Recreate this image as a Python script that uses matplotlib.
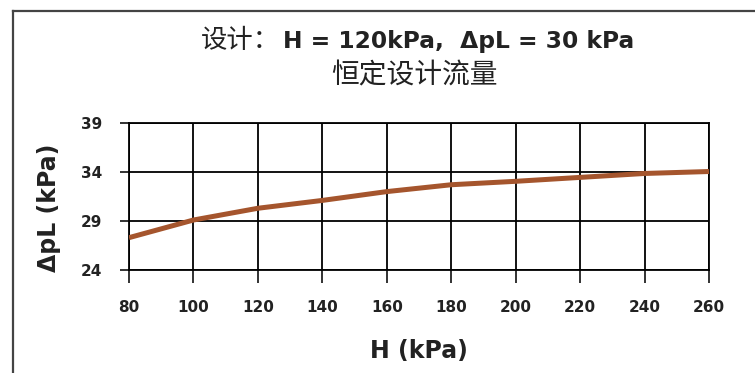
import matplotlib
matplotlib.use('Agg')
import matplotlib.pyplot as plt
from matplotlib.lines import Line2D

# data
H = [80, 100, 120, 140, 160, 180, 200, 220, 240, 260]
dpL = [27.3, 29.1, 30.3, 31.1, 32.0, 32.7, 33.05, 33.45, 33.85, 34.05]
xticks = [80, 100, 120, 140, 160, 180, 200, 220, 240, 260]
yticks = [24, 29, 34, 39]

W, Hpx = 755, 373
fig = plt.figure(figsize=(W / 100, Hpx / 100), dpi=100)
fig.patch.set_facecolor('white')

# page frame (left + top lines)
fig.add_artist(Line2D([13 / W, 13 / W], [0, 1 - 11 / Hpx], color='#444444', lw=1.6))
fig.add_artist(Line2D([13 / W, 1], [1 - 11 / Hpx, 1 - 11 / Hpx], color='#444444', lw=1.6))

ax = fig.add_axes([129 / W, 1 - 270 / Hpx, 580 / W, 147 / Hpx])
ax.plot(H, dpL, color='#A5552D', lw=3.6, solid_capstyle='butt', zorder=3)

ax.set_xlim(80, 260)
ax.set_ylim(24, 39)
ax.set_xticks(xticks)
ax.set_yticks(yticks)
ax.grid(True, color='black', lw=1.3)
for s in ax.spines.values():
    s.set_color('black')
    s.set_linewidth(1.3)

tick_font = dict(family='DejaVu Sans', weight='bold', size=11)
ax.set_xticklabels([str(v) for v in xticks], fontdict=tick_font)
ax.set_yticklabels([str(v) for v in yticks], fontdict=tick_font)
ax.tick_params(axis='x', direction='out', length=9.5, width=1.3, pad=12, colors='#222222')
ax.tick_params(axis='y', direction='out', length=6.5, width=1.3, pad=13, colors='#222222')

ax.set_xlabel('H (kPa)', family='DejaVu Sans', weight='bold', size=17, color='#222222')
ax.set_ylabel('ΔpL (kPa)', family='DejaVu Sans', weight='bold', size=17, color='#222222')
ax.xaxis.set_label_coords(0.5, -0.47)
ax.yaxis.set_label_coords(-0.118, 0.42)

# title lines
fig.text(280 / W, 1 - 48 / Hpx, '设计：', family=['Noto Sans CJK SC', 'DejaVu Sans'],
         size=19, ha='right', va='baseline', color='#222222')
fig.text(283 / W, 1 - 48 / Hpx, 'H = 120kPa,  ΔpL = 30 kPa', family='DejaVu Sans',
         weight='bold', size=16.8, ha='left', va='baseline', color='#222222')
fig.text(414 / W, 1 - 75 / Hpx, '恒定设计流量', family=['Noto Sans CJK SC', 'DejaVu Sans'],
         size=20, ha='center', va='center', color='#222222')

fig.savefig('out.png', dpi=100, facecolor='white')
